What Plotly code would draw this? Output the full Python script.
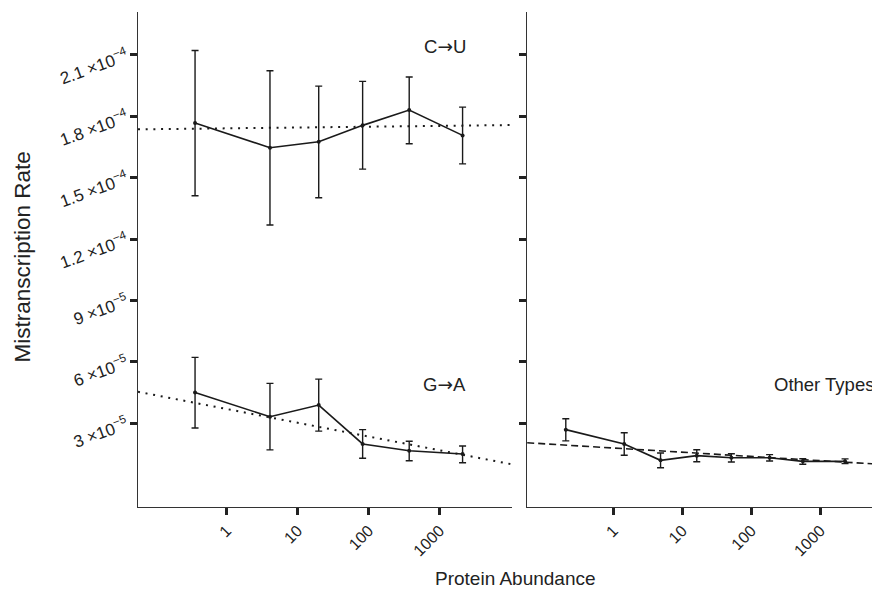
import plotly.graph_objects as go

# ---- data ----
abund_left = [0.358, 4.07, 19.8, 82.3, 373, 2108]
cu_rate = [1.767e-4, 1.647e-4, 1.676e-4, 1.756e-4, 1.831e-4, 1.707e-4]
cu_hi = [2.122e-4, 2.023e-4, 1.948e-4, 1.971e-4, 1.992e-4, 1.845e-4]
cu_lo = [1.412e-4, 1.269e-4, 1.402e-4, 1.542e-4, 1.666e-4, 1.568e-4]

ga_rate = [4.51e-5, 3.32e-5, 3.89e-5, 1.99e-5, 1.66e-5, 1.50e-5]
ga_hi = [6.22e-5, 4.95e-5, 5.16e-5, 2.69e-5, 2.12e-5, 1.89e-5]
ga_lo = [2.77e-5, 1.70e-5, 2.62e-5, 1.29e-5, 1.17e-5, 1.07e-5]

abund_right = [0.205, 1.44, 4.84, 16.2, 51.4, 184, 557, 2281]
ot_rate = [2.69e-5, 1.99e-5, 1.19e-5, 1.42e-5, 1.32e-5, 1.32e-5, 1.14e-5, 1.14e-5]
ot_hi = [3.22e-5, 2.54e-5, 1.55e-5, 1.71e-5, 1.51e-5, 1.47e-5, 1.27e-5, 1.26e-5]
ot_lo = [2.14e-5, 1.44e-5, 8.3e-6, 1.12e-5, 1.11e-5, 1.16e-5, 9.97e-6, 1.03e-5]

# fitted trend lines (endpoints over the axis span)
fit_x_left = [0.0562, 10400]
cu_fit = [1.7365e-4, 1.7575e-4]
ga_fit = [4.54e-5, 9.97e-6]
fit_x_right = [0.0566, 7000]
ot_fit = [2.05e-5, 1.00e-5]

x_ticks = [1, 10, 100, 1000]
x_ticklabels = ["1", "10", "100", "1000"]
y_ticks = [3e-5, 6e-5, 9e-5, 1.2e-4, 1.5e-4, 1.8e-4, 2.1e-4]
y_ticklabels = ["3 ×10<sup>−5</sup>", "6 ×10<sup>−5</sup>", "9 ×10<sup>−5</sup>",
                "1.2 ×10<sup>−4</sup>", "1.5 ×10<sup>−4</sup>", "1.8 ×10<sup>−4</sup>",
                "2.1 ×10<sup>−4</sup>"]

INK = "#1a1a1a"
FONT = "Liberation Sans, Arial, sans-serif"
ARROW = "<span style='font-family:DejaVu Sans'>→</span>"


def err_trace(x, y, hi, lo, xa, ya):
    return go.Scatter(
        x=x, y=y, xaxis=xa, yaxis=ya, mode="lines+markers",
        line=dict(color=INK, width=1.6),
        marker=dict(color=INK, size=4),
        error_y=dict(type="data", symmetric=False,
                     array=[h - v for h, v in zip(hi, y)],
                     arrayminus=[v - l for v, l in zip(y, lo)],
                     color=INK, thickness=1.4, width=3.5),
        showlegend=False, hoverinfo="skip")


fig = go.Figure()
fig.add_trace(go.Scatter(x=fit_x_left, y=cu_fit, xaxis="x", yaxis="y", mode="lines",
                         line=dict(color=INK, width=2, dash="2px,5.7px"), showlegend=False))
fig.add_trace(go.Scatter(x=fit_x_left, y=ga_fit, xaxis="x", yaxis="y", mode="lines",
                         line=dict(color=INK, width=2, dash="2px,5.7px"), showlegend=False))
fig.add_trace(go.Scatter(x=fit_x_right, y=ot_fit, xaxis="x2", yaxis="y2", mode="lines",
                         line=dict(color=INK, width=1.6, dash="7px,4px"), showlegend=False))
fig.add_trace(err_trace(abund_left, cu_rate, cu_hi, cu_lo, "x", "y"))
fig.add_trace(err_trace(abund_left, ga_rate, ga_hi, ga_lo, "x", "y"))
fig.add_trace(err_trace(abund_right, ot_rate, ot_hi, ot_lo, "x2", "y2"))

yrange = [-1.09e-5, 2.31e-4]
axis_common = dict(showgrid=False, zeroline=False, showline=True, linecolor="#333333",
                   linewidth=1.3, ticks="outside", ticklen=7, tickwidth=2.5,
                   tickcolor="#222222", automargin=False,
                   tickfont=dict(family=FONT, size=17, color="#222222"))

# page body has an 8px margin, so the figure is 8px smaller than the window
fig.update_layout(
    width=872, height=585,
    margin=dict(l=130, r=1, t=4, b=86),
    paper_bgcolor="white", plot_bgcolor="white",
    font=dict(family=FONT, color="#222222"),
    xaxis=dict(domain=[0, 0.5047], type="log", range=[-1.25, 4.02],
               tickvals=x_ticks, ticktext=x_ticklabels, tickangle=-45,
               anchor="y", **axis_common),
    xaxis2=dict(domain=[0.525, 1], type="log", range=[-1.25, 3.85],
                tickvals=x_ticks, ticktext=x_ticklabels, tickangle=-45,
                anchor="y2", **axis_common),
    yaxis=dict(range=yrange, tickvals=y_ticks, ticktext=y_ticklabels, tickangle=-20,
               anchor="x", **axis_common),
    yaxis2=dict(range=yrange, tickvals=y_ticks, showticklabels=False,
                anchor="x2", **axis_common),
)
fig.update_xaxes(tickfont_size=16)

ann_font = dict(family=FONT, size=18.5, color="#222222")
fig.add_annotation(text="C" + ARROW + "U", xref="x", yref="y", x=3.07, y=2.143e-4,
                   showarrow=False, font=ann_font)
fig.add_annotation(text="G" + ARROW + "A", xref="x", yref="y", x=3.07, y=4.9e-5,
                   showarrow=False, font=ann_font)
fig.add_annotation(text="Other Types", xref="x2", yref="y2", x=3.80, y=4.9e-5,
                   xanchor="right", showarrow=False, font=ann_font)

fig.add_annotation(text="Mistranscription Rate", xref="paper", yref="paper",
                   x=-0.1565, y=0.504, textangle=-90, showarrow=False, xanchor="center",
                   font=dict(family=FONT, size=22.5, color="#222222"))
fig.add_annotation(text="Protein Abundance", xref="paper", yref="paper",
                   x=0.509, y=-0.145, showarrow=False, yanchor="middle",
                   font=dict(family=FONT, size=19, color="#222222"))

fig.write_html("out.html")
